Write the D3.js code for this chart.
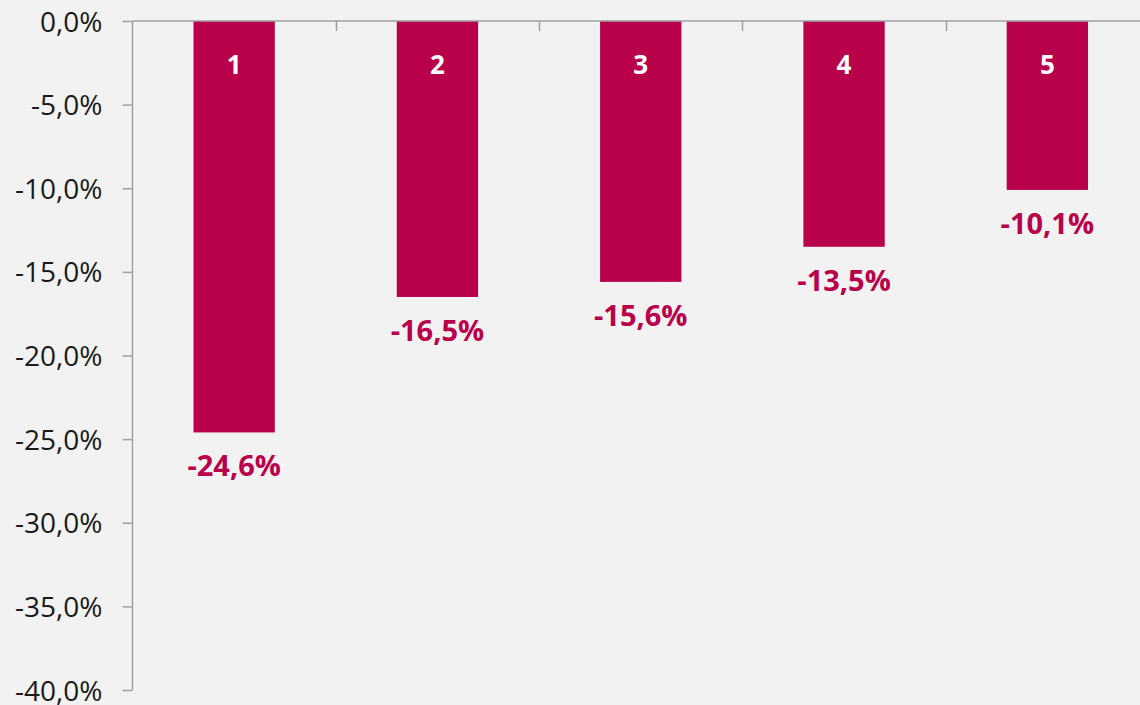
<!DOCTYPE html>
<html>
<head>
<meta charset="utf-8">
<script src="https://cdn.jsdelivr.net/npm/d3@7"></script>
<style>
  html, body { margin: 0; padding: 0; background: #F2F2F2; }
  svg { display: block; }
</style>
</head>
<body>
<svg id="chart" width="1140" height="705"></svg>
<script>
const categories = ["1", "2", "3", "4", "5"];
const values = [-24.6, -16.5, -15.6, -13.5, -10.1];
const yTicks = [0, -5, -10, -15, -20, -25, -30, -35, -40];

const W = 1140, H = 705;
const svg = d3.select("#chart");
svg.append("rect").attr("width", W).attr("height", H).attr("fill", "#F2F2F2");

const x0 = 132.5, step = 203.3;
const x = d3.scaleBand()
  .domain(categories)
  .range([x0, x0 + step * categories.length])
  .paddingInner(0.6)
  .paddingOuter(0.3);

const y = d3.scaleLinear().domain([0, -40]).range([21, 690]);

const fmt = v => d3.format(".1f")(v).replace(".", ",").replace("−", "-") + "%";

// Y axis
const yAxis = d3.axisLeft(y)
  .tickValues(yTicks)
  .tickSize(10)
  .tickPadding(20)
  .tickFormat(fmt);

const gy = svg.append("g").attr("transform", `translate(${x0},0)`).call(yAxis);
gy.select(".domain").remove();
gy.append("line").attr("x1", 0).attr("x2", 0).attr("y1", y(0)).attr("y2", y(-40))
  .attr("stroke", "#A0A0A0").attr("stroke-width", 1.5);
gy.selectAll(".tick line").attr("stroke", "#A0A0A0").attr("stroke-width", 1.5);
gy.selectAll(".tick text")
  .attr("fill", "#1a1a1a")
  .style("font-family", "'Open Sans', 'Noto Sans', sans-serif")
  .style("font-size", "28px")
  .attr("dy", "0.36em");

// Bars
svg.append("g").selectAll("rect")
  .data(categories)
  .join("rect")
  .attr("x", (d) => x(d))
  .attr("width", x.bandwidth())
  .attr("y", y(0))
  .attr("height", (d, i) => y(values[i]) - y(0))
  .attr("fill", "#B8004B");

// X axis line and boundary ticks
const gx = svg.append("g");
gx.append("line").attr("x1", x0).attr("x2", W + 10).attr("y1", y(0)).attr("y2", y(0))
  .attr("stroke", "#A0A0A0").attr("stroke-width", 1.5);
gx.selectAll(".bt")
  .data(categories.slice(0, -1))
  .join("line")
  .attr("class", "bt")
  .attr("x1", d => Math.round(x(d) + x.bandwidth() / 2 + x.step() / 2) + 0.5)
  .attr("x2", d => Math.round(x(d) + x.bandwidth() / 2 + x.step() / 2) + 0.5)
  .attr("y1", y(0)).attr("y2", y(0) + 10)
  .attr("stroke", "#A0A0A0").attr("stroke-width", 1.5);

// Category labels inside bars
svg.append("g").selectAll("text")
  .data(categories)
  .join("text")
  .attr("x", d => x(d) + x.bandwidth() / 2)
  .attr("y", 74)
  .attr("text-anchor", "middle")
  .attr("fill", "#FFFFFF")
  .style("font-family", "'Open Sans', 'Noto Sans', sans-serif")
  .style("font-weight", "700")
  .style("font-size", "26px")
  .text(d => d);

// Value labels below bars
svg.append("g").selectAll("text")
  .data(categories)
  .join("text")
  .attr("x", d => x(d) + x.bandwidth() / 2)
  .attr("y", (d, i) => y(values[i]) + 44)
  .attr("text-anchor", "middle")
  .attr("fill", "#B8004B")
  .style("font-family", "'Open Sans', 'Noto Sans', sans-serif")
  .style("font-weight", "700")
  .style("font-size", "29px")
  .text((d, i) => fmt(values[i]));
</script>
</body>
</html>
